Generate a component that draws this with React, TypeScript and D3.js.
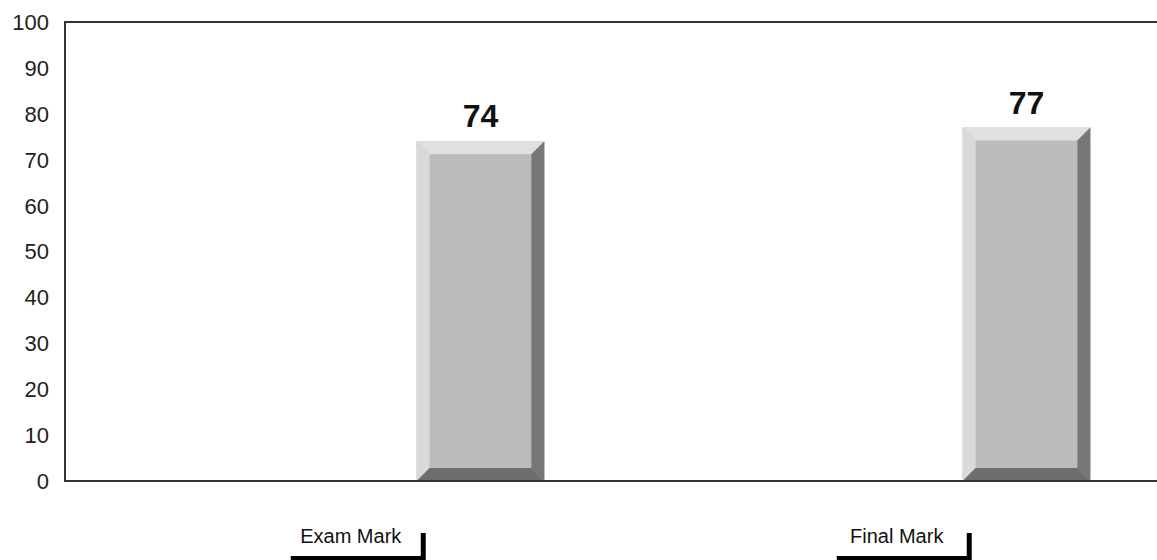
import React from "react";
import * as d3 from "d3";

// values
const categories = ["Exam Mark", "Final Mark"];
const marks = [74, 77];
const yTicks = [0, 10, 20, 30, 40, 50, 60, 70, 80, 90, 100];

const W = 1157;
const H = 560;
const margin = { top: 22, right: 0, bottom: 79, left: 65 };
const bevel = 13;

const App: React.FC = () => {
  const x = d3
    .scaleBand<string>()
    .domain(categories)
    .range([margin.left, W - margin.right]);

  const y = d3
    .scaleLinear()
    .domain([0, 100])
    .range([H - margin.bottom, margin.top]);

  const bw = x.bandwidth();
  const font = "Arial, 'Liberation Sans', sans-serif";

  return (
    <div style={{ position: "absolute", left: 0, top: 0 }}>
      <svg width={W} height={H} style={{ display: "block", background: "#fff" }}>
        {/* y tick labels */}
        {yTicks.map((t) => (
          <text
            key={t}
            x={49}
            y={y(t)}
            dy="0.36em"
            textAnchor="end"
            fontFamily={font}
            fontSize={22}
            fill="#222"
          >
            {t}
          </text>
        ))}

        {/* bars with bevelled faces */}
        {categories.map((c, i) => {
          const x0 = (x(c) || 0) + bw * 0.644;
          const x1 = x0 + bw * 0.234;
          const y0 = y(marks[i]);
          const y1 = y(0);
          const b = bevel;
          const pts = (p: number[][]) => p.map((d) => d.join(",")).join(" ");
          return (
            <g key={c}>
              <rect x={x0} y={y0} width={x1 - x0} height={y1 - y0} fill="#bbbbbb" />
              <polygon
                points={pts([[x0, y0], [x1, y0], [x1 - b, y0 + b], [x0 + b, y0 + b]])}
                fill="#e0e0e0"
              />
              <polygon
                points={pts([[x0, y0], [x0 + b, y0 + b], [x0 + b, y1 - b], [x0, y1]])}
                fill="#dadada"
              />
              <polygon
                points={pts([[x1, y0], [x1, y1], [x1 - b, y1 - b], [x1 - b, y0 + b]])}
                fill="#777777"
              />
              <polygon
                points={pts([[x0, y1], [x1, y1], [x1 - b, y1 - b], [x0 + b, y1 - b]])}
                fill="#6e6e6e"
              />
              <text
                x={(x0 + x1) / 2}
                y={y0 - 14}
                textAnchor="middle"
                fontFamily={font}
                fontWeight="bold"
                fontSize={32}
                fill="#111"
              >
                {marks[i]}
              </text>
            </g>
          );
        })}

        {/* frame */}
        <path
          d={`M${W},${margin.top}H${margin.left}V${y(0)}H${W}`}
          fill="none"
          stroke="#333"
          strokeWidth={2}
        />

        {/* category labels in shadowed boxes */}
        {categories.map((c) => {
          const cx = (x(c) || 0) + bw * 0.527;
          const bx = cx - 67;
          const by = 528;
          return (
            <g key={c}>
              <rect x={bx + 5} y={by + 5} width={135} height={28} fill="#000" />
              <rect x={bx} y={by} width={135} height={28} fill="#fff" />
              <text
                x={cx - 2}
                y={543}
                textAnchor="middle"
                fontFamily={font}
                fontSize={20}
                fill="#111"
              >
                {c}
              </text>
            </g>
          );
        })}
      </svg>
    </div>
  );
};

export default App;
